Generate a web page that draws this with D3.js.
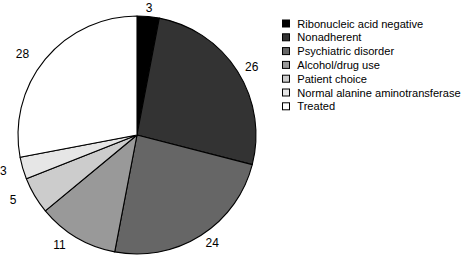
<!DOCTYPE html>
<html>
<head>
<meta charset="utf-8">
<script src="https://cdn.jsdelivr.net/npm/d3@7"></script>
<style>
  html, body { margin: 0; padding: 0; background: #fff; }
  #chart { width: 462px; height: 258px; }
  text { font-family: "Liberation Sans", Arial, sans-serif; fill: #000; }
</style>
</head>
<body>
<div id="chart"></div>
<script>
const categories = [
    'Ribonucleic acid negative',
    'Nonadherent',
    'Psychiatric disorder',
    'Alcohol/drug use',
    'Patient choice',
    'Normal alanine aminotransferase',
    'Treated'
];
const values = [3, 26, 24, 11, 5, 3, 28];
const colors = ['#000000', '#333333', '#666666', '#999999', '#cccccc', '#e6e6e6', '#ffffff'];

function createPieChart() {
    const container = d3.select('#chart');
    container.html('');

    const width = 462;
    const height = 258;
    const cx = 137;
    const cy = 135;
    const radius = 119;

    const data = categories.map((c, i) => ({ category: c, value: values[i], color: colors[i] }));

    const svg = container.append('svg')
        .attr('width', width)
        .attr('height', height);

    const g = svg.append('g')
        .attr('transform', `translate(${cx},${cy})`);

    const pie = d3.pie()
        .value(d => d.value)
        .sort(null);

    const arc = d3.arc()
        .innerRadius(0)
        .outerRadius(radius);

    const arcs = pie(data);

    g.selectAll('.slice')
        .data(arcs)
        .enter()
        .append('path')
        .attr('class', 'slice')
        .attr('d', arc)
        .attr('fill', d => d.data.color)
        .attr('stroke', '#000')
        .attr('stroke-width', 1.1)
        .attr('stroke-linejoin', 'round');

    function midAngle(d) {
        return d.startAngle + (d.endAngle - d.startAngle) / 2;
    }

    // labels: right side start-anchored, left side end-anchored, near top centred
    function side(d) {
        const s = Math.sin(midAngle(d));
        if (Math.abs(s) < 0.3) return 0;
        return s > 0 ? 1 : -1;
    }
    const labelR = { '-1': 140, '0': 128, '1': 128 };
    const labelRy = 128;

    g.selectAll('.label')
        .data(arcs)
        .enter()
        .append('text')
        .attr('class', 'label')
        .attr('x', d => labelR[side(d)] * Math.sin(midAngle(d)))
        .attr('y', d => -labelRy * Math.cos(midAngle(d)))
        .attr('dy', '0.36em')
        .attr('text-anchor', d => side(d) === 0 ? 'middle' : (side(d) > 0 ? 'start' : 'end'))
        .style('font-size', '12px')
        .text(d => d.data.value)
        .each(function() {
            // keep labels inside the picture
            const box = this.getBBox();
            if (box.x + cx < 0) {
                d3.select(this).attr('x', +d3.select(this).attr('x') - (box.x + cx));
            }
        });

    // legend
    const legend = svg.append('g')
        .attr('transform', 'translate(282,23.5)');

    const rows = legend.selectAll('.row')
        .data(data)
        .enter()
        .append('g')
        .attr('class', 'row')
        .attr('transform', (d, i) => `translate(0,${i * 13.8})`);

    rows.append('rect')
        .attr('x', 0.5)
        .attr('y', -3.5)
        .attr('width', 7)
        .attr('height', 7)
        .attr('fill', d => d.color)
        .attr('stroke', '#000')
        .attr('stroke-width', 1);

    rows.append('text')
        .attr('x', 15.3)
        .attr('y', 0)
        .attr('dy', '0.36em')
        .style('font-size', '11.1px')
        .text(d => d.category);
}

createPieChart();
</script>
</body>
</html>
